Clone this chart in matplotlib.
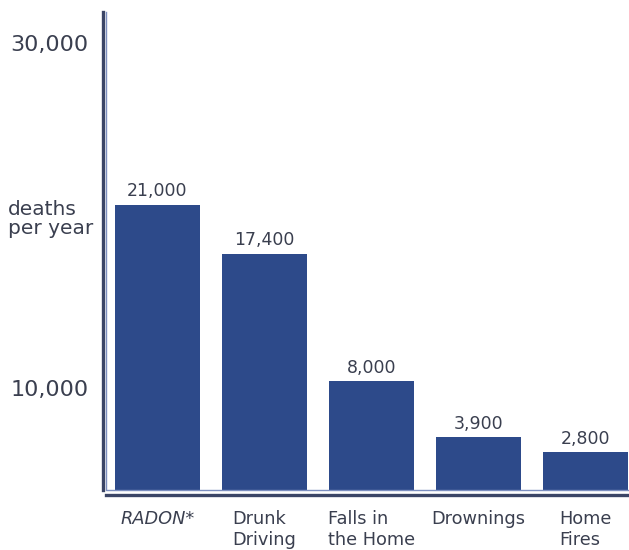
"""Radon vs. other causes of death, bar chart."""

import matplotlib.pyplot as plt

categories = ["RADON*", "Drunk\nDriving", "Falls in\nthe Home", "Drownings", "Home\nFires"]
deaths = [21000, 17400, 8000, 3900, 2800]
value_labels = ["21,000", "17,400", "8,000", "3,900", "2,800"]
axis_labels = ["30,000", "10,000"]

BAR_COLOR = "#2d4a8a"
AXIS_COLOR = "#3b4566"
INNER_LINE = "#7d8fc0"
TEXT_COLOR = "#3a3f4f"

plt.rcParams["font.family"] = ["DejaVu Sans"]

fig = plt.figure(figsize=(6.29, 5.5), dpi=100)
ax = fig.add_axes([0.1685, 0.1091, 0.8315, 0.8691])

positions = list(range(len(categories)))
bars = ax.bar(positions, deaths, width=0.79, color=BAR_COLOR)

for bar, label in zip(bars, value_labels):
    ax.annotate(
        label,
        (bar.get_x() + bar.get_width() / 2, bar.get_height()),
        xytext=(0, 3),
        textcoords="offset points",
        ha="center",
        va="bottom",
        fontsize=12.5,
        color=TEXT_COLOR,
    )

ax.set_xlim(-0.481, 4.407)
ax.set_ylim(0, 35170)

for side in ("top", "right"):
    ax.spines[side].set_visible(False)
for side in ("left", "bottom"):
    ax.spines[side].set_color(AXIS_COLOR)
    ax.spines[side].set_linewidth(2.4)
ax.spines["bottom"].set_position(("outward", 3.6))
ax.spines["left"].set_position(("outward", 2.2))

# ticks after the spines are moved (moving a spine resets its ticks)
ax.set_xticks(positions)
ax.set_xticklabels(categories, fontsize=12.8, color=TEXT_COLOR, multialignment="left",
                   linespacing=1.2)
ax.get_xticklabels()[0].set_style("italic")
ax.tick_params(axis="x", length=0, pad=11)
ax.set_yticks([])

# thin lighter line on the inside of the frame
ax.plot([0, 0, 1], [1, 0, 0], transform=ax.transAxes, color=INNER_LINE,
        lw=1, clip_on=False)

# hand-placed axis annotations, as in the original graphic
fig.text(0.016, 1 - 45 / 550, axis_labels[0], fontsize=16, color=TEXT_COLOR, va="center")
fig.text(0.016, 1 - 390 / 550, axis_labels[1], fontsize=16, color=TEXT_COLOR, va="center")
fig.text(0.013, 1 - 219 / 550, "deaths\nper year", fontsize=14.5, color=TEXT_COLOR,
         va="center", linespacing=1.05)

fig.savefig("out.png", dpi=100)
